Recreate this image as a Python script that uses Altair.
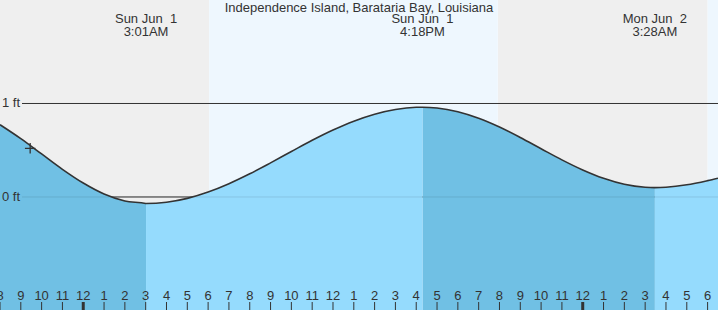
import altair as alt
import pandas as pd

# ---- data ----
# hours relative to midnight starting Sun Jun 1; tide height in ft
tide_hours = [-4, -3, -2, -1, 0, 1, 2, 3, 3.017, 4, 5, 6, 7, 8, 9, 10, 11, 12, 13, 14, 15, 16, 16.3,
              17, 18, 19, 20, 21, 22, 23, 24, 25, 26, 27, 27.467, 28, 29, 30, 30.5]
tide_heights = [0.773, 0.624, 0.460, 0.296, 0.149, 0.032, -0.043, -0.069, -0.07, -0.056, -0.015, 0.053,
                0.142, 0.248, 0.365, 0.486, 0.606, 0.716, 0.811, 0.886, 0.936, 0.959, 0.96,
                0.952, 0.912, 0.842, 0.748, 0.636, 0.516, 0.397, 0.289, 0.200, 0.136, 0.104, 0.10,
                0.104, 0.130, 0.175, 0.201]

extreme_hours = [3.017, 16.3, 27.467]
extreme_dates = ["Sun Jun\u00a0\u00a01", "Sun Jun\u00a0\u00a01", "Mon Jun\u00a0\u00a02"]
extreme_times = ["3:01AM", "4:18PM", "3:28AM"]

daynight_start = [-4.0, 6.05, 19.92, 30.0]
daynight_end = [6.05, 19.92, 30.0, 30.5]
daynight_kind = ["night", "day", "night", "day"]

tick_hours = list(range(-4, 31))
tick_labels = [str(((h % 12) or 12)) for h in tick_hours]
midnight_hours = [0, 24]

now_hour = [-2.55]
now_height = [0.52]

ft_values = [0, 1]
ft_labels = ["0 ft", "1 ft"]

title_text = "Independence Island, Barataria Bay, Louisiana"

Y_MIN, Y_MAX = -1.209, 2.107

# ---- build tables ----
bounds = [-100] + extreme_hours + [100]
shades = ["dark", "light", "dark", "light"]
rows = []
for i in range(len(bounds) - 1):
    lo, hi = bounds[i], bounds[i + 1]
    for t, h in zip(tide_hours, tide_heights):
        if lo <= t <= hi:
            rows.append({"t": t, "h": h, "base": Y_MIN, "seg": i, "shade": shades[i]})
area_df = pd.DataFrame(rows)
line_df = pd.DataFrame({"t": tide_hours, "h": tide_heights})
ext_df = pd.DataFrame({"t": extreme_hours, "date": extreme_dates, "time": extreme_times})
dn_df = pd.DataFrame({"start": daynight_start, "end": daynight_end, "kind": daynight_kind})
tick_df = pd.DataFrame({"t": tick_hours, "label": tick_labels})
mid_df = pd.DataFrame({"t": midnight_hours})
now_df = pd.DataFrame({"t": now_hour, "h": now_height})
ft_df = pd.DataFrame({"v": ft_values, "label": ft_labels})

W, H = 718, 310
xs = alt.Scale(domain=[-4.0, 30.5], range=[0, W], nice=False, zero=False)
ys = alt.Scale(domain=[Y_MIN, Y_MAX], range=[H, 0], nice=False, zero=False)
FONT = "Liberation Sans"
FS = 13
TXT = "#333333"

def X(f):
    return alt.X(f, type="quantitative", scale=xs, axis=None)

def Y(f):
    return alt.Y(f, type="quantitative", scale=ys, axis=None, stack=None)

base_dn = alt.Chart(dn_df)
night = base_dn.transform_filter(alt.datum.kind == "night").mark_rect(color="#efefef").encode(
    x=X("start"), x2="end", y=alt.value(0), y2=alt.value(H))
day = base_dn.transform_filter(alt.datum.kind == "day").mark_rect(color="#eef7fe").encode(
    x=X("start"), x2="end", y=alt.value(0), y2=alt.value(H))

zero_dark = alt.Chart(ft_df).transform_filter(alt.datum.v == 0).mark_rule(color="#333333", strokeWidth=1).encode(
    x=alt.value(22), x2=alt.value(W), y=Y("v"))

base_area = alt.Chart(area_df)
area_dark = base_area.transform_filter(alt.datum.shade == "dark").mark_area(
    color="#70c0e4", interpolate="monotone", opacity=1).encode(
    x=X("t"), y=Y("h"), y2="base", detail="seg:N")
area_light = base_area.transform_filter(alt.datum.shade == "light").mark_area(
    color="#95dbfd", interpolate="monotone", opacity=1).encode(
    x=X("t"), y=Y("h"), y2="base", detail="seg:N")

zero_faint = alt.Chart(ft_df).transform_filter(alt.datum.v == 0).mark_rule(
    color="#000000", opacity=0.1, strokeWidth=1).encode(
    x=alt.value(22), x2=alt.value(W), y=Y("v"))
one_rule = alt.Chart(ft_df).transform_filter(alt.datum.v == 1).mark_rule(
    color="#333333", strokeWidth=1).encode(
    x=alt.value(22), x2=alt.value(W), y=Y("v"))

tide_line = alt.Chart(line_df).mark_line(color="#333333", strokeWidth=1.6, interpolate="monotone").encode(
    x=X("t"), y=Y("h"))

now_pt = alt.Chart(now_df).mark_point(shape="M-1,0L1,0M0,-1L0,1", size=110, color="#333333",
                                      strokeWidth=1.3, filled=False, opacity=1).encode(x=X("t"), y=Y("h"))

ft_text = alt.Chart(ft_df).mark_text(align="left", baseline="middle", font=FONT, fontSize=FS, color=TXT).encode(
    x=alt.value(2), y=Y("v"), text="label:N")

ticks = alt.Chart(tick_df).mark_rule(color="#333333", strokeWidth=1).encode(
    x=X("t"), y=alt.value(302), y2=alt.value(H))
mid_ticks = alt.Chart(mid_df).mark_rule(color="#333333", strokeWidth=3).encode(
    x=X("t"), y=alt.value(302), y2=alt.value(H))
tick_text = alt.Chart(tick_df).mark_text(baseline="middle", font=FONT, fontSize=FS, color=TXT).encode(
    x=X("t"), y=alt.value(295.5), text="label:N")

title = alt.Chart(pd.DataFrame({"label": [title_text]})).mark_text(
    baseline="middle", font=FONT, fontSize=FS, color=TXT).encode(
    x=alt.value(W / 2), y=alt.value(7.5), text="label:N")

ext_base = alt.Chart(ext_df)
ext_date = ext_base.mark_text(baseline="middle", font=FONT, fontSize=FS, color=TXT).encode(
    x=X("t"), y=alt.value(19), text="date:N")
ext_time = ext_base.mark_text(baseline="middle", font=FONT, fontSize=FS, color=TXT).encode(
    x=X("t"), y=alt.value(32), text="time:N")

chart = alt.layer(
    night, day, zero_dark, area_dark, area_light, zero_faint, one_rule, tide_line, now_pt,
    ft_text, ticks, mid_ticks, tick_text, title, ext_date, ext_time
).properties(width=W, height=H, padding=0,
             autosize=alt.AutoSizeParams(type="none")
).configure_view(stroke=None)

chart.save("out.html", embed_options={"renderer": "svg", "actions": False})
